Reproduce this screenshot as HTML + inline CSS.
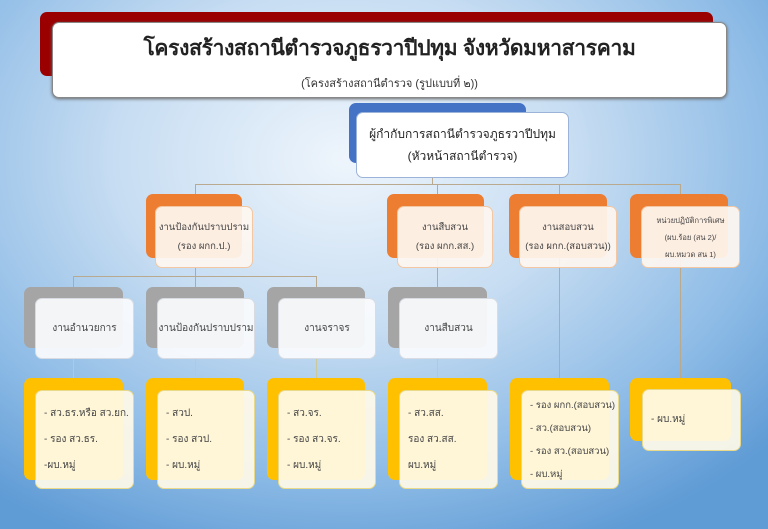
<!DOCTYPE html>
<html><head><meta charset="utf-8"><style>
*{margin:0;padding:0;box-sizing:border-box}
body{width:768px;height:529px;overflow:hidden;position:relative;font-family:"Liberation Sans","Noto Sans CJK SC",sans-serif;
background:radial-gradient(ellipse 75% 80% at 45% 30%,#eef5fc 0%,#c7ddf2 40%,#8dbbe6 75%,#5f9bd5 100%);}
.b{position:absolute;border-radius:7px}
.f{position:absolute;border-radius:7px;display:flex;flex-direction:column;justify-content:center;align-items:center;color:#333;text-align:center}
.l{position:absolute;background:#b9a98f}
.y{background:rgba(255,250,232,0.93);border:1px solid #e9d98a;align-items:flex-start;text-align:left;padding-left:8px;font-size:10px;line-height:26px;color:#444}
.g{background:rgba(250,251,253,0.93);border:1px solid #d8dce2;font-size:10px;color:#444}
.o{background:rgba(254,246,240,0.93);border:1px solid #f2c7a2;font-size:9.5px;line-height:19px;color:#444}
</style></head><body>
<div class="b" style="left:40px;top:12px;width:673px;height:64px;background:#9b0000"></div>
<div class="f" style="left:52px;top:22px;width:675px;height:76px;background:#fff;border:1px solid #888;box-shadow:0 1px 3px #666">
<div style="font-size:21px;font-weight:bold;color:#222;margin-top:4px;letter-spacing:-0.3px">โครงสร้างสถานีตำรวจภูธรวาปีปทุม จังหวัดมหาสารคาม</div>
<div style="font-size:11px;color:#333;margin-top:9px">(โครงสร้างสถานีตำรวจ (รูปแบบที่ ๒))</div></div>

<div class="b" style="left:349px;top:103px;width:177px;height:60px;background:#4472c4"></div>
<div class="f" style="left:356px;top:112px;width:213px;height:66px;background:#fff;border:1px solid #9bb3d8;font-size:12px;line-height:22px;color:#222">ผู้กำกับการสถานีตำรวจภูธรวาปีปทุม<br>(หัวหน้าสถานีตำรวจ)</div>

<div class="l" style="left:432px;top:178px;width:1px;height:7px"></div>
<div class="l" style="left:195px;top:184px;width:486px;height:1px"></div>
<div class="l" style="left:195px;top:184px;width:1px;height:22px"></div>
<div class="l" style="left:437px;top:184px;width:1px;height:103px"></div>
<div class="l" style="left:559px;top:184px;width:1px;height:194px"></div>
<div class="l" style="left:680px;top:184px;width:1px;height:194px"></div>
<div class="l" style="left:195px;top:267px;width:1px;height:20px"></div>
<div class="l" style="left:73px;top:276px;width:243px;height:1px"></div>
<div class="l" style="left:73px;top:276px;width:1px;height:11px"></div>
<div class="l" style="left:316px;top:276px;width:1px;height:11px"></div>
<div class="l" style="left:73px;top:359px;width:1px;height:19px;background:#c9c99a"></div>
<div class="l" style="left:195px;top:359px;width:1px;height:19px;background:#c9c99a"></div>
<div class="l" style="left:316px;top:359px;width:1px;height:19px;background:#c9c99a"></div>
<div class="l" style="left:437px;top:359px;width:1px;height:19px;background:#c9c99a"></div>

<div class="b" style="left:146px;top:194px;width:96px;height:64px;background:#ed7d31"></div>
<div class="f o" style="left:155px;top:206px;width:98px;height:62px">งานป้องกันปราบปราม<br>(รอง ผกก.ป.)</div>
<div class="b" style="left:387px;top:194px;width:97px;height:64px;background:#ed7d31"></div>
<div class="f o" style="left:397px;top:206px;width:96px;height:62px">งานสืบสวน<br>(รอง ผกก.สส.)</div>
<div class="b" style="left:509px;top:194px;width:98px;height:64px;background:#ed7d31"></div>
<div class="f o" style="left:519px;top:206px;width:98px;height:62px">งานสอบสวน<br>(รอง ผกก.(สอบสวน))</div>
<div class="b" style="left:630px;top:194px;width:98px;height:64px;background:#ed7d31"></div>
<div class="f o" style="left:641px;top:206px;width:99px;height:62px;font-size:7.5px;line-height:17px">หน่วยปฏิบัติการพิเศษ<br>(ผบ.ร้อย (สน 2)/<br>ผบ.หมวด สน 1)</div>

<div class="b" style="left:24px;top:287px;width:99px;height:61px;background:#a5a5a5"></div>
<div class="f g" style="left:35px;top:298px;width:99px;height:61px">งานอำนวยการ</div>
<div class="b" style="left:146px;top:287px;width:98px;height:61px;background:#a5a5a5"></div>
<div class="f g" style="left:157px;top:298px;width:98px;height:61px">งานป้องกันปราบปราม</div>
<div class="b" style="left:267px;top:287px;width:98px;height:61px;background:#a5a5a5"></div>
<div class="f g" style="left:278px;top:298px;width:98px;height:61px">งานจราจร</div>
<div class="b" style="left:388px;top:287px;width:99px;height:61px;background:#a5a5a5"></div>
<div class="f g" style="left:399px;top:298px;width:99px;height:61px">งานสืบสวน</div>

<div class="b" style="left:24px;top:378px;width:99px;height:102px;background:#ffc000"></div>
<div class="f y" style="left:35px;top:390px;width:99px;height:99px">- สว.ธร.หรือ สว.ยก.<br>- รอง สว.ธร.<br>-ผบ.หมู่</div>
<div class="b" style="left:146px;top:378px;width:98px;height:102px;background:#ffc000"></div>
<div class="f y" style="left:157px;top:390px;width:98px;height:99px">- สวป.<br>- รอง สวป.<br>- ผบ.หมู่</div>
<div class="b" style="left:267px;top:378px;width:98px;height:102px;background:#ffc000"></div>
<div class="f y" style="left:278px;top:390px;width:98px;height:99px">- สว.จร.<br>- รอง สว.จร.<br>- ผบ.หมู่</div>
<div class="b" style="left:388px;top:378px;width:99px;height:102px;background:#ffc000"></div>
<div class="f y" style="left:399px;top:390px;width:99px;height:99px">- สว.สส.<br>รอง สว.สส.<br>ผบ.หมู่</div>
<div class="b" style="left:510px;top:378px;width:99px;height:102px;background:#ffc000"></div>
<div class="f y" style="left:521px;top:390px;width:98px;height:99px;line-height:23px;font-size:9.5px">- รอง ผกก.(สอบสวน)<br>- สว.(สอบสวน)<br>- รอง สว.(สอบสวน)<br>- ผบ.หมู่</div>
<div class="b" style="left:630px;top:378px;width:101px;height:63px;background:#ffc000"></div>
<div class="f y" style="left:642px;top:389px;width:99px;height:62px">- ผบ.หมู่</div>
</body></html>
